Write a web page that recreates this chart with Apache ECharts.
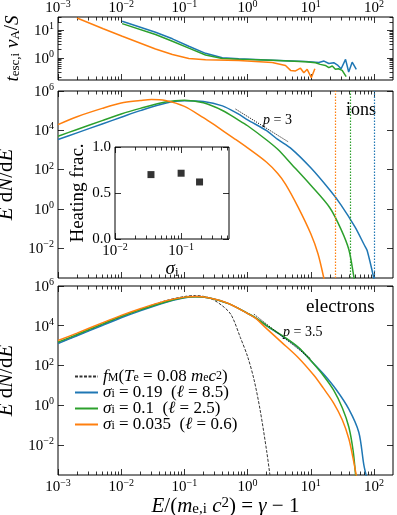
<!DOCTYPE html>
<html>
<head>
<meta charset="utf-8">
<script src="https://cdn.jsdelivr.net/npm/echarts@6/dist/echarts.min.js"></script>
<style>
  html, body { margin: 0; padding: 0; background: #fff; }
  #main { width: 397px; height: 515px; }
</style>
</head>
<body>
<div id="main"></div>
<script>
// ---- data ----
// top panel: escape time t_esc,i vA / S vs energy
var tescBlueE = [0.01035, 0.0349, 0.0646, 0.1175, 0.216, 0.398, 0.724, 2.45, 8.24, 13.4, 16.2, 19.3, 23.1, 26.9, 30.2, 35.5, 39.8, 45.2, 52.5];
var tescBlueT = [21.3, 8.51, 4.90, 2.63, 1.45, 1.0, 0.912, 0.82, 0.734, 0.676, 0.759, 0.617, 0.661, 0.525, 0.398, 0.871, 0.302, 0.692, 0.38];
var tescGreenE = [0.01035, 0.0349, 0.0646, 0.1175, 0.216, 0.398, 0.724, 2.45, 8.24, 11.9, 14.1, 17.0, 19.3, 21.9, 24.5, 27.5, 31.4, 36.3];
var tescGreenT = [17.5, 7.01, 3.98, 2.24, 1.26, 0.94, 0.891, 0.82, 0.715, 0.661, 0.575, 0.525, 0.437, 0.50, 0.38, 0.398, 0.347, 0.204];
var tescOrangeE = [0.002, 0.0052, 0.0104, 0.0349, 0.0646, 0.1175, 0.216, 0.724, 2.45, 3.98, 4.79, 5.73, 6.87, 7.76, 8.77, 10.2, 11.6];
var tescOrangeT = [28.1, 11.4, 6.08, 2.09, 1.31, 0.94, 0.843, 0.80, 0.676, 0.525, 0.347, 0.331, 0.417, 0.285, 0.38, 0.188, 0.40];

// middle panel: ion spectra E dN/dE
var ionsBlueE = [0.001, 0.002, 0.005, 0.01, 0.02, 0.05, 0.1, 0.2, 0.4, 0.7, 1, 2, 3, 5, 10, 20, 30, 50, 70, 78, 102];
var ionsBlueN = [3.4e3, 7.4e3, 2.1e4, 4.6e4, 1.0e5, 2.4e5, 3.2e5, 2.95e5, 1.75e5, 7.0e4, 3.4e4, 9.5e3, 3.4e3, 1.1e3, 122, 9.0, 1.6, 0.12, 0.0148, 7.5e-3, 2e-4];
var ionsGreenE = [0.001, 0.002, 0.005, 0.01, 0.02, 0.05, 0.1, 0.2, 0.4, 0.7, 1, 2, 3, 5, 10, 20, 30, 40, 48, 50];
var ionsGreenN = [5.0e3, 1.1e4, 3.1e4, 6.8e4, 1.3e5, 2.75e5, 3.4e5, 2.5e5, 1.02e5, 3.5e4, 1.7e4, 3.2e3, 1.07e3, 182, 15.8, 1.14, 0.093, 8.5e-3, 3.5e-4, 1.5e-4];
var ionsOrangeE = [0.001, 0.002, 0.005, 0.01, 0.02, 0.03, 0.05, 0.1, 0.2, 0.3, 0.6, 1, 2, 3, 4, 6.3, 10, 13, 16, 17];
var ionsOrangeN = [1.95e4, 4.9e4, 1.3e5, 2.45e5, 3.25e5, 3.7e5, 3.3e5, 1.66e5, 4.4e4, 1.86e4, 4.0e3, 1.26e3, 234, 63, 17.8, 1.23, 0.054, 5.2e-3, 3.2e-4, 1e-4];
var ionsCutoffE = [100, 42, 24.5];          // blue, green, orange (dotted verticals)
var ionSlopeE = [0.646, 4.47];              // p = 3 guide
var ionSlopeN = [1.2e5, 2.5e3];

// bottom panel: electron spectra E dN/dE
var elecMaxwE = [0.001, 0.002, 0.005, 0.01, 0.02, 0.05, 0.1, 0.15, 0.25, 0.4, 0.55, 0.77, 1, 1.26, 1.58, 2, 2.25, 2.35];
var elecMaxwN = [1.3e3, 3.2e3, 1.1e4, 2.8e4, 6.6e4, 1.8e5, 2.95e5, 3.3e5, 2.5e5, 1e5, 3.5e4, 2.5e3, 280, 20, 0.56, 5e-3, 3.2e-4, 1e-4];
var elecBlueE = [0.001, 0.002, 0.005, 0.01, 0.02, 0.05, 0.1, 0.15, 0.25, 0.5, 1, 1.33, 2, 3.5, 6.3, 10, 15.8, 25, 40, 57.5, 69, 76];
var elecBlueN = [1.26e3, 3.1e3, 1.02e4, 2.5e4, 5.6e4, 1.48e5, 2.57e5, 2.9e5, 2.5e5, 1.29e5, 4.2e4, 2.5e4, 9.8e3, 3.1e3, 800, 175, 38, 6.3, 0.63, 0.043, 1e-3, 2.5e-4];
var elecGreenE = [0.001, 0.002, 0.005, 0.01, 0.02, 0.05, 0.1, 0.15, 0.25, 0.5, 1, 1.33, 2, 3.5, 6.3, 10, 15.8, 23, 31.6, 40, 46.8, 51.3, 53];
var elecGreenN = [1.48e3, 3.6e3, 1.2e4, 2.9e4, 6.3e4, 1.58e5, 2.63e5, 2.9e5, 2.5e5, 1.29e5, 4.2e4, 2.55e4, 1.02e4, 3.25e3, 840, 175, 31, 5.6, 0.71, 0.079, 5e-3, 2.8e-4, 1e-4];
var elecOrangeE = [0.001, 0.002, 0.005, 0.01, 0.02, 0.05, 0.1, 0.15, 0.25, 0.5, 1, 1.33, 2, 3.5, 6.3, 11.2, 15.8, 23, 31.6, 40, 46.8, 52.5, 55];
var elecOrangeN = [1.78e3, 4.2e3, 1.38e4, 3.3e4, 7.2e4, 1.78e5, 2.75e5, 2.95e5, 2.5e5, 1.32e5, 4.1e4, 2.4e4, 7.1e3, 1.41e3, 251, 31.6, 7.1, 1.26, 0.178, 0.02, 2e-3, 2.8e-4, 1e-4];
var elecSlopeE = [1.26, 10];                // p = 3.5 guide
var elecSlopeN = [3.8e4, 215];

// inset: heating fraction vs sigma_i
var sigmaI = [0.035, 0.1, 0.19];
var heatFrac = [0.70, 0.715, 0.62];

// tick values
var xMajor = [1e-3, 1e-2, 1e-1, 1, 10, 100];
var tMajor = [1, 10];
var nMajor = [1e-2, 1, 1e2, 1e4, 1e6];
var insetXMajor = [0.01, 0.1];
var insetYMajor = [0, 0.5, 1];

var BLUE = '#1f77b4', GREEN = '#2ca02c', ORANGE = '#ff7f0e';
var SERIF = '"Liberation Serif", "DejaVu Serif", serif';

function minorTicks(lo, hi) {
    var out = [];
    for (var d = -4; d <= 3; d++) {
        for (var k = 2; k <= 9; k++) {
            var v = k * Math.pow(10, d);
            if (v > lo && v < hi) out.push(v);
        }
    }
    return out;
}
function pairs(a, b) {
    return a.map(function (v, i) { return [v, b[i]]; });
}
function richSet(size, lh) {
    var s = Math.round(size * 0.7);
    var r = {
        n: {fontFamily: SERIF, fontSize: size, color: '#000'},
        i: {fontFamily: SERIF, fontSize: size, fontStyle: 'italic', color: '#000'},
        sub: {fontFamily: SERIF, fontSize: s, color: '#000', verticalAlign: 'bottom'},
        sup: {fontFamily: SERIF, fontSize: s, color: '#000', verticalAlign: 'top'}
    };
    if (lh) {
        r.n.lineHeight = lh; r.i.lineHeight = lh;
        r.sub.lineHeight = s; r.sup.lineHeight = s;
    }
    return r;
}
var tickRich = {
    b: {fontFamily: SERIF, fontSize: 15, color: '#000', lineHeight: 17, verticalAlign: 'bottom'},
    s: {fontFamily: SERIF, fontSize: 10, color: '#000', verticalAlign: 'top'}
};
function powLabel(v) {
    var e = Math.round(Math.log(v) / Math.LN10);
    return '{b|10}{s|' + (e < 0 ? '\u2212' + (-e) : e) + '}';
}

var X_MIN = 1e-3, X_MAX = 200;
var T_MIN = 0.155, T_MAX = 30.5;
var N_MIN = 3e-4, N_MAX = 1e6;

var xAxes = [], yAxes = [];
function makeAxis(kind, grid, pos, min, max, ticks, len, label) {
    var ax = {
        type: kind, gridIndex: grid, position: pos, min: min, max: max,
        axisLine: {show: false},
        splitLine: {show: false},
        axisTick: {show: true, inside: true, length: len, customValues: ticks,
                   lineStyle: {color: '#000', width: 0.8}},
        axisLabel: {show: false}
    };
    if (kind === 'log') ax.logBase = 10;
    if (label) ax.axisLabel = label;
    return ax;
}
function tickLabel(values, margin) {
    return {show: true, customValues: values, formatter: powLabel, margin: margin, rich: tickRich};
}

// three stacked panels share the energy axis
for (var g = 0; g < 3; g++) {
    var xm = minorTicks(X_MIN, X_MAX);
    xAxes.push(makeAxis('log', g, 'bottom', X_MIN, X_MAX, xMajor, 6, g === 2 ? tickLabel(xMajor, 3) : null));
    xAxes.push(makeAxis('log', g, 'bottom', X_MIN, X_MAX, xm, 3.5, null));
    xAxes.push(makeAxis('log', g, 'top', X_MIN, X_MAX, xMajor, 6, g === 0 ? tickLabel(xMajor, 1) : null));
    xAxes.push(makeAxis('log', g, 'top', X_MIN, X_MAX, xm, 3.5, null));
    if (g === 0) {
        var tm = minorTicks(T_MIN, T_MAX);
        yAxes.push(makeAxis('log', g, 'left', T_MIN, T_MAX, tMajor, 6, tickLabel(tMajor, 4)));
        yAxes.push(makeAxis('log', g, 'left', T_MIN, T_MAX, tm, 3.5, null));
        yAxes.push(makeAxis('log', g, 'right', T_MIN, T_MAX, tMajor, 6, null));
        yAxes.push(makeAxis('log', g, 'right', T_MIN, T_MAX, tm, 3.5, null));
    } else {
        yAxes.push(makeAxis('log', g, 'left', N_MIN, N_MAX, nMajor, 6, tickLabel(nMajor, 4)));
        yAxes.push(makeAxis('log', g, 'left', N_MIN, N_MAX, [], 3.5, null));
        yAxes.push(makeAxis('log', g, 'right', N_MIN, N_MAX, nMajor, 6, null));
        yAxes.push(makeAxis('log', g, 'right', N_MIN, N_MAX, [], 3.5, null));
    }
}
// axis titles
yAxes[0].name = '{i|t}{sub|esc,i}{n| }{i|v}{sub|A}{n|/}{i|S}';
yAxes[0].nameLocation = 'middle';
yAxes[0].nameGap = 36;
yAxes[0].nameTextStyle = {rich: richSet(19)};
[4, 8].forEach(function (k) {
    yAxes[k].name = '{i|E}{n| d}{i|N}{n|/d}{i|E}';
    yAxes[k].nameLocation = 'middle';
    yAxes[k].nameGap = 37;
    yAxes[k].nameTextStyle = {rich: richSet(21)};
});
xAxes[8].name = '{i|E}{n|/(}{i|m}{sub|e,i}{n| }{i|c}{sup|2}{n|) = }{i|\u03b3}{n| \u2212 1}';
xAxes[8].nameLocation = 'middle';
xAxes[8].nameGap = 16;
xAxes[8].nameTextStyle = {rich: richSet(21)};

// inset axes (grid 3)
var insetMinor = minorTicks(0.01, 0.53);
xAxes.push(makeAxis('log', 3, 'bottom', 0.01, 0.53, insetXMajor, 6,
    {show: true, customValues: insetXMajor, formatter: powLabel, margin: 3, rich: tickRich}));
xAxes.push(makeAxis('log', 3, 'bottom', 0.01, 0.53, insetMinor, 3.5, null));
xAxes.push(makeAxis('log', 3, 'top', 0.01, 0.53, insetXMajor, 6, null));
xAxes.push(makeAxis('log', 3, 'top', 0.01, 0.53, insetMinor, 3.5, null));
yAxes.push(makeAxis('value', 3, 'left', 0, 1, insetYMajor, 6,
    {show: true, customValues: insetYMajor, margin: 4, fontFamily: SERIF, fontSize: 15, color: '#000',
     formatter: function (v) { return v.toFixed(1); }}));
yAxes.push(makeAxis('value', 3, 'right', 0, 1, insetYMajor, 6, null));
xAxes[12].name = '{i|\u03c3}{sub|i}';
xAxes[12].nameLocation = 'middle';
xAxes[12].nameGap = 20;
xAxes[12].nameTextStyle = {rich: richSet(19)};
yAxes[12].name = '{n|Heating frac.}';
yAxes[12].nameLocation = 'middle';
yAxes[12].nameGap = 27;
yAxes[12].nameTextStyle = {rich: richSet(19)};

function lineSeries(name, g, data, color, extra) {
    var s = {
        name: name, type: 'line', xAxisIndex: 4 * g, yAxisIndex: 4 * g,
        data: data, symbol: 'none', clip: true, smooth: 0.3,
        lineStyle: {color: color, width: 1.5}, itemStyle: {color: color},
        emphasis: {disabled: true}
    };
    for (var k in extra) s[k] = extra[k];
    return s;
}
function cutoff(e, color) {
    var ls = {type: [1.5, 1.5], color: color, width: 1.2, opacity: 1};
    return {silent: true, symbol: ['none', 'none'], label: {show: false},
            lineStyle: ls, itemStyle: {color: color},
            emphasis: {disabled: true}, data: [{xAxis: e, lineStyle: ls}]};
}
var guideStyle = {color: '#000', width: 0.9, type: [1.2, 1.2]};

var series = [
    lineSeries('tescBlue', 0, pairs(tescBlueE, tescBlueT), BLUE, {smooth: false}),
    lineSeries('tescGreen', 0, pairs(tescGreenE, tescGreenT), GREEN, {smooth: false}),
    lineSeries('tescOrange', 0, pairs(tescOrangeE, tescOrangeT), ORANGE, {smooth: false}),

    lineSeries('ionsBlue', 1, pairs(ionsBlueE, ionsBlueN), BLUE, {markLine: cutoff(ionsCutoffE[0], BLUE)}),
    lineSeries('ionsGreen', 1, pairs(ionsGreenE, ionsGreenN), GREEN, {markLine: cutoff(ionsCutoffE[1], GREEN)}),
    lineSeries('ionsOrange', 1, pairs(ionsOrangeE, ionsOrangeN), ORANGE, {markLine: cutoff(ionsCutoffE[2], ORANGE)}),
    lineSeries('ionSlope', 1, pairs(ionSlopeE, ionSlopeN), '#000',
        {smooth: false, z: 5, lineStyle: guideStyle}),

    lineSeries('fM', 2, pairs(elecMaxwE, elecMaxwN), '#333',
        {lineStyle: {color: '#333', width: 1, type: [3, 1.5]}}),
    lineSeries('s019', 2, pairs(elecBlueE, elecBlueN), BLUE, {}),
    lineSeries('s010', 2, pairs(elecGreenE, elecGreenN), GREEN, {}),
    lineSeries('s0035', 2, pairs(elecOrangeE, elecOrangeN), ORANGE, {}),
    lineSeries('elecSlope', 2, pairs(elecSlopeE, elecSlopeN), '#000',
        {smooth: false, z: 5, lineStyle: guideStyle}),

    {
        name: 'heating', type: 'scatter', xAxisIndex: 12, yAxisIndex: 12,
        data: pairs(sigmaI, heatFrac), symbol: 'rect', symbolSize: 7,
        itemStyle: {color: '#000'}, emphasis: {disabled: true}
    }
];

var legendNames = {
    fM: '{i|f}{sub|M}{n|(}{i|T}{sub|e}{n| = 0.08 }{i|m}{sub|e}{i|c}{sup|2}{n|)}',
    s019: '{i|\u03c3}{sub|i}{n| = 0.19  (}{i|\u2113}{n| = 8.5)}',
    s010: '{i|\u03c3}{sub|i}{n| = 0.1  (}{i|\u2113}{n| = 2.5)}',
    s0035: '{i|\u03c3}{sub|i}{n| = 0.035  (}{i|\u2113}{n| = 0.6)}'
};

var gridBox = {show: true, borderColor: '#000', borderWidth: 1, backgroundColor: 'transparent', containLabel: false, outerBoundsMode: 'none'};
function grid(l, t, w, h, bg) {
    var o = {left: l, top: t, width: w, height: h};
    for (var k in gridBox) o[k] = gridBox[k];
    if (bg) o.backgroundColor = bg;
    return o;
}

var option = {
    animation: false,
    backgroundColor: '#fff',
    grid: [
        grid(58, 17, 335, 63),
        grid(58, 91, 335, 187),
        grid(58, 286, 335, 189),
        grid(115, 147, 114, 92, '#fff')
    ],
    xAxis: xAxes,
    yAxis: yAxes,
    legend: {
        data: ['fM', 's019', 's010', 's0035'],
        orient: 'vertical', left: 74, top: 368,
        itemWidth: 23, itemHeight: 10, itemGap: -1,
        padding: 0,
        selectedMode: false,
        itemStyle: {opacity: 0},
        formatter: function (n) { return legendNames[n]; },
        textStyle: {lineHeight: 14, rich: richSet(17, 14)}
    },
    series: series,
    graphic: [
        {type: 'text', left: 346, top: 101, style: {text: 'ions', font: '18px ' + SERIF, fill: '#000'}},
        {type: 'text', left: 306, top: 298, style: {text: 'electrons', font: '19px ' + SERIF, fill: '#000'}},
        {type: 'text', left: 263, top: 113, style: {text: '{i|p}{n| = 3}', rich: richSet(14)}},
        {type: 'text', left: 283, top: 325, style: {text: '{i|p}{n| = 3.5}', rich: richSet(14)}}
    ]
};

var myChart = echarts.init(document.getElementById('main'));
myChart.setOption(option);
window.addEventListener('resize', function () {
    myChart.resize();
});
</script>
</body>
</html>
